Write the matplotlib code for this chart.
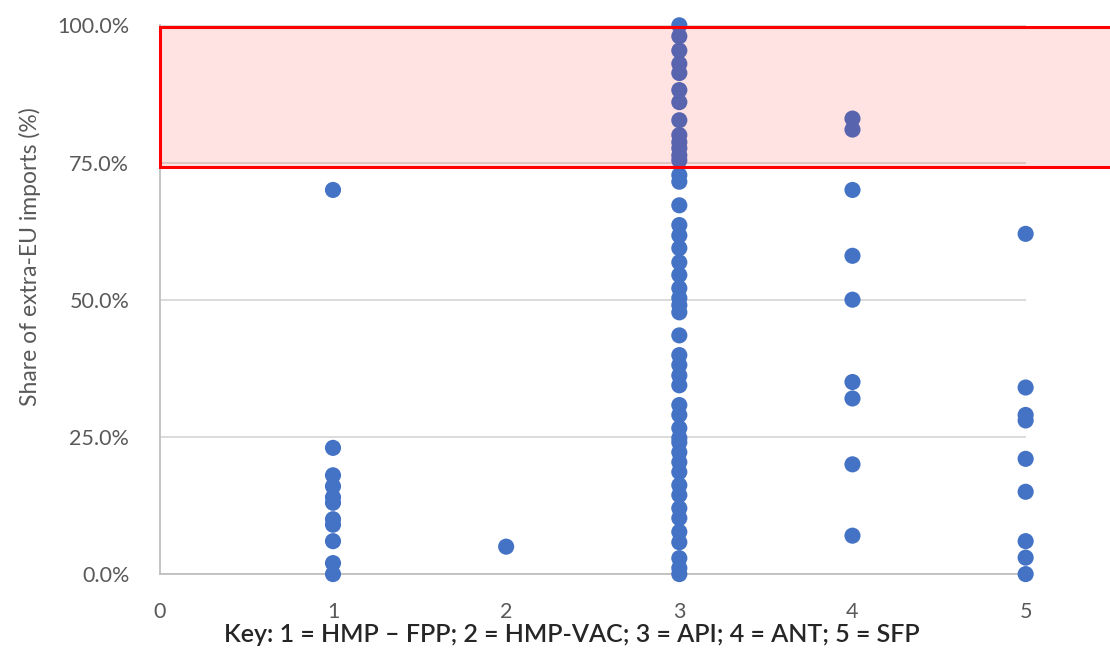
import matplotlib.pyplot as plt
from matplotlib.patches import Rectangle
from matplotlib.ticker import PercentFormatter

plt.rcParams['font.family'] = ['Lato', 'DejaVu Sans']

# share of extra-EU imports (%) per category
cat1 = [70, 23, 18, 16, 14, 13, 10, 9, 6, 2, 0]
cat2 = [5]
cat3 = [100, 98, 95.4, 93, 91.3, 88.2, 86, 82.7, 80, 78.7, 77.6, 76.3, 75.4,
        72.7, 71.5, 67.2, 63.6, 61.7, 59.4, 56.8, 54.5, 52.1, 50.3, 49, 47.7,
        43.5, 39.9, 38.1, 36.2, 34.4, 30.8, 29, 26.6, 24.8, 24, 22.2, 20.4,
        18.6, 16.2, 14.4, 12, 10.2, 7.7, 5.8, 2.9, 1.1, 0]
cat4 = [83, 81, 70, 58, 50, 35, 32, 20, 7]
cat5 = [62, 34, 29, 28, 21, 15, 6, 3, 0]
groups = [cat1, cat2, cat3, cat4, cat5]

fig = plt.figure(figsize=(11.1, 6.66), dpi=100)
ax = fig.add_axes([0.144, 0.138, 0.780, 0.824])

for i, vals in enumerate(groups):
    ax.scatter([i + 1] * len(vals), vals, s=135, color='#4472C4',
               edgecolors='none', zorder=3, clip_on=False)

# highlighted zone (share above ~75%)
rect = Rectangle((0, 74.2), 5.5, 25.5, facecolor=(1, 0, 0, 0.11),
                 edgecolor='#FF0000', linewidth=2.2, zorder=4, clip_on=False)
ax.add_patch(rect)

ax.set_xlim(0, 5)
ax.set_ylim(0, 100)
ax.set_xticks([0, 1, 2, 3, 4, 5])
ax.set_yticks([0, 25, 50, 75, 100])
ax.yaxis.set_major_formatter(PercentFormatter(decimals=1))
ax.grid(axis='y', color='#D9D9D9', linewidth=1.3, zorder=0)
ax.set_axisbelow(True)

for s in ['top', 'right']:
    ax.spines[s].set_visible(False)
ax.spines['left'].set_color('#BFBFBF')
ax.spines['bottom'].set_color('#BFBFBF')
ax.spines['left'].set_linewidth(1.3)
ax.spines['bottom'].set_linewidth(1.3)
ax.tick_params(length=0, labelsize=15.5, colors='#595959')
ax.tick_params(axis='y', pad=22)
ax.tick_params(axis='x', pad=20)

fig.text(0.027, 0.615, 'Share of extra-EU imports (%)', rotation=90,
         ha='center', va='center', fontsize=16.5, color='#595959')
fig.text(0.515, 0.047, 'Key: 1 = HMP \u2013 FPP; 2 = HMP-VAC; 3 = API; 4 = ANT; 5 = SFP',
         ha='center', va='center', fontsize=18, color='#262626', fontweight='semibold')

fig.savefig('out.png', dpi=100)
